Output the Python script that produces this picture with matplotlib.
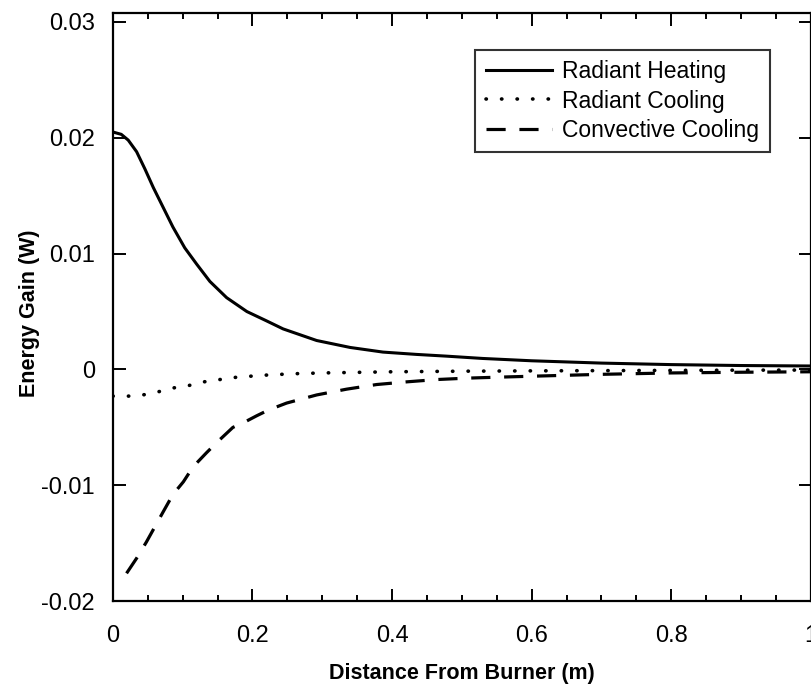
import matplotlib
matplotlib.use("Agg")
import matplotlib.pyplot as plt
from matplotlib.ticker import MultipleLocator

# Energy terms along the burner axis
x_heat = [0.0, 0.012, 0.022, 0.034, 0.046, 0.058, 0.072, 0.086, 0.103, 0.12,
          0.139, 0.163, 0.192, 0.22, 0.244, 0.292, 0.34, 0.387, 0.435, 0.478,
          0.53, 0.6, 0.7, 0.8, 0.9, 1.0]
radiant_heating = [0.0205, 0.0203, 0.0198, 0.0188, 0.0173, 0.0157, 0.0140, 0.0123,
                   0.0105, 0.0091, 0.0076, 0.0062, 0.0050, 0.0042, 0.0035, 0.0025,
                   0.0019, 0.0015, 0.0013, 0.00115, 0.00095, 0.00075, 0.00055,
                   0.00042, 0.00034, 0.0003]

x_rcool = [0.0, 0.024, 0.043, 0.067, 0.086, 0.108, 0.127, 0.15, 0.172, 0.215,
           0.258, 0.3, 0.4, 0.5, 0.6, 0.7, 0.8, 0.9, 1.0]
radiant_cooling = [-0.0023, -0.0023, -0.0022, -0.0019, -0.0016, -0.0014, -0.0011,
                   -0.0009, -0.0007, -0.0005, -0.00037, -0.0003, -0.0002, -0.00015,
                   -0.00012, -0.0001, -0.00008, -0.00006, -0.00005]

x_conv = [0.0196, 0.034, 0.048, 0.060, 0.072, 0.086, 0.101, 0.115, 0.134, 0.149,
          0.172, 0.187, 0.206, 0.223, 0.249, 0.292, 0.335, 0.378, 0.421, 0.464,
          0.507, 0.555, 0.602, 0.7, 0.8, 0.9, 1.0]
convective_cooling = [-0.0176, -0.0163, -0.0149, -0.0136, -0.0123, -0.0108, -0.0097,
                      -0.0084, -0.0072, -0.0063, -0.0050, -0.0046, -0.0040, -0.0035,
                      -0.0029, -0.0022, -0.0017, -0.0013, -0.00107, -0.00087,
                      -0.00075, -0.00066, -0.00058, -0.00042, -0.0003, -0.00024,
                      -0.0002]

plt.rcParams['font.family'] = ['Liberation Sans', 'DejaVu Sans']

fig = plt.figure(figsize=(8.12, 6.87), dpi=100)
ax = fig.add_axes([0.139, 0.125, 0.8595, 0.8565])

ax.plot(x_heat, radiant_heating, color='black', lw=2.2, label='Radiant Heating')
ax.plot(x_rcool, radiant_cooling, color='black', lw=2.6,
        linestyle=(0, (0.1, 4.2)), dash_capstyle='round', label='Radiant Cooling')
ax.plot(x_conv, convective_cooling, color='black', lw=2.3,
        linestyle=(0, (6, 4.3)), label='Convective Cooling')

ax.set_xlim(0, 1)
ax.set_ylim(-0.02, 0.0308)
ax.xaxis.set_minor_locator(MultipleLocator(0.05))
ax.set_xticks([0, 0.2, 0.4, 0.6, 0.8, 1.0])
ax.set_xticklabels(['0', '0.2', '0.4', '0.6', '0.8', '1'])
ax.set_yticks([-0.02, -0.01, 0, 0.01, 0.02, 0.03])
ax.set_yticklabels(['-0.02', '-0.01', '0', '0.01', '0.02', '0.03'])

ax.tick_params(which='both', direction='in', top=True, right=True, width=1.4,
               labelsize=17, colors='black')
ax.tick_params(which='major', length=9)
ax.tick_params(axis='y', which='major', pad=13)
ax.tick_params(axis='x', which='major', pad=17)
ax.tick_params(which='minor', length=4.5)
for s in ax.spines.values():
    s.set_linewidth(1.6)

ax.set_xlabel('Distance From Burner (m)', fontsize=15.5, fontweight='bold')
ax.set_ylabel('Energy Gain (W)', fontsize=15.5, fontweight='bold')
ax.xaxis.set_label_coords(0.5, -0.106)
ax.yaxis.set_label_coords(-0.105, 0.49)

leg = ax.legend(loc='upper right', bbox_to_anchor=(0.941, 0.937), fontsize=16.5,
                frameon=True, fancybox=False, edgecolor='black', handlelength=2.9,
                handletextpad=0.45, labelspacing=0.28, borderpad=0.45,
                borderaxespad=0)
leg.get_frame().set_linewidth(1.5)

fig.savefig('out.png', dpi=100)
